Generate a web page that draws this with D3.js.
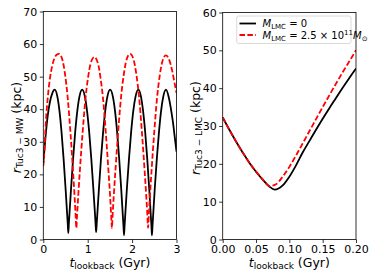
<!DOCTYPE html>
<html>
<head>
<meta charset="utf-8">
<script src="https://cdn.jsdelivr.net/npm/d3@7"></script>
<style>
  body { margin: 0; background: #fff; }
  text { font-family: "DejaVu Sans", sans-serif; fill: #000; }
</style>
</head>
<body>
<svg id="fig" width="374" height="280"></svg>
<script>
// left panel: distance to the MW (Gyr, kpc)
var mwTimeBlack = [0, 0.05, 0.1, 0.15, 0.2, 0.257,
  0.318, 0.364, 0.41, 0.456, 0.502, 0.532, 0.551, 0.563,
  0.575, 0.594, 0.625, 0.672, 0.719, 0.766, 0.813, 0.875,
  0.938, 0.985, 1.033, 1.08, 1.127, 1.159, 1.177, 1.19,
  1.203, 1.222, 1.253, 1.3, 1.348, 1.395, 1.442, 1.505,
  1.568, 1.615, 1.662, 1.708, 1.755, 1.786, 1.805, 1.818,
  1.831, 1.85, 1.882, 1.931, 1.979, 2.027, 2.076, 2.14,
  2.201, 2.247, 2.294, 2.34, 2.386, 2.416, 2.435, 2.447,
  2.46, 2.479, 2.51, 2.558, 2.606, 2.653, 2.701, 2.764,
  2.82, 2.87, 2.92, 2.96, 3.0];
var mwDistBlack = [23.5, 31.5, 38, 42.3, 44.8, 46,
  43.8, 39.5, 33.1, 25, 15.6, 8.9, 4.8, 2,
  4.8, 8.9, 15.6, 25, 33.1, 39.5, 43.8, 46,
  43.8, 39.5, 33.1, 25, 15.6, 8.9, 4.9, 2.3,
  4.9, 8.9, 15.6, 25, 33.1, 39.5, 43.8, 46,
  43.8, 39.5, 33.1, 25, 15.5, 8.5, 4.3, 1.3,
  4.3, 8.5, 15.5, 25, 33.1, 39.5, 43.8, 46,
  43.8, 39.5, 33.1, 25, 15.5, 8.5, 4.3, 1.3,
  4.3, 8.5, 15.5, 25, 33.1, 39.5, 43.8, 46,
  44, 40.5, 36, 31.5, 27];

var mwTimeRed = [0, 0.016, 0.06, 0.1, 0.15, 0.2, 0.25, 0.3, 0.354,
  0.432, 0.491, 0.549, 0.608, 0.666, 0.705, 0.728, 0.744,
  0.76, 0.785, 0.825, 0.886, 0.947, 1.008, 1.069, 1.15,
  1.229, 1.288, 1.348, 1.407, 1.466, 1.506, 1.529, 1.545,
  1.561, 1.586, 1.627, 1.689, 1.75, 1.812, 1.873, 1.955,
  2.036, 2.097, 2.158, 2.218, 2.279, 2.32, 2.344, 2.36,
  2.376, 2.4, 2.44, 2.5, 2.56, 2.62, 2.68, 2.76,
  2.84, 2.9, 2.95, 3.0];
var mwDistRed = [22.5, 25.3, 36.6, 43.5, 49.5, 53.3, 55.6, 56.7, 57,
  55.1, 50.6, 43.6, 33.5, 21.7, 13.1, 7.5, 3.5,
  7.4, 13, 21.4, 32.9, 42.9, 49.7, 54.2, 56,
  54.2, 49.7, 42.9, 32.9, 21.4, 13, 7.4, 3.5,
  7.5, 13.1, 21.7, 33.5, 43.6, 50.6, 55.1, 57,
  55.1, 50.6, 43.6, 33.5, 21.7, 13.1, 7.5, 3.6,
  7.5, 13, 21.5, 33.2, 43.2, 50.1, 54.6, 56.5,
  55, 52, 48.5, 45];

// right panel: distance to the LMC
var lmcTimeBlack = [0, 0.01, 0.02, 0.03, 0.04, 0.05, 0.06, 0.07, 0.078, 0.09,
  0.1, 0.11, 0.12, 0.13, 0.14, 0.15, 0.16, 0.17, 0.18, 0.19, 0.2];
var lmcDistBlack = [32.3, 29, 25.9, 23, 20.3, 17.9, 15.8, 14, 13.2, 14.3,
  16.6, 19.6, 23, 26, 29, 31.9, 34.7, 37.4, 40.1, 42.7, 45.2];
var lmcTimeRed = [0, 0.01, 0.02, 0.03, 0.04, 0.05, 0.06, 0.07, 0.08, 0.09,
  0.1, 0.11, 0.12, 0.13, 0.14, 0.15, 0.16, 0.17, 0.18, 0.19, 0.2];
var lmcDistRed = [32.3, 29, 25.9, 23, 20.3, 18, 15.9, 14.1, 14.6, 16.6,
  19.2, 22.2, 25.4, 28.6, 31.8, 35, 38.1, 41.2, 44.2, 47.1, 50];

var leftXTicks = [0, 1, 2, 3];
var leftYTicks = [0, 10, 20, 30, 40, 50, 60, 70];
var rightXTicks = [0, 0.05, 0.1, 0.15, 0.2];
var rightYTicks = [0, 10, 20, 30, 40, 50, 60];

var svg = d3.select('#fig');

function zip(ts, rs) {
  return ts.map(function (t, i) { return [t, rs[i]]; });
}

function drawPanel(opt) {
  var x = d3.scaleLinear().domain(opt.xDomain).range([opt.left, opt.right]);
  var y = d3.scaleLinear().domain(opt.yDomain).range([opt.bottom, opt.top]);
  var g = svg.append('g');

  g.append('clipPath').attr('id', opt.id)
    .append('rect')
    .attr('x', opt.left).attr('y', opt.top)
    .attr('width', opt.right - opt.left).attr('height', opt.bottom - opt.top);

  var line = d3.line()
    .x(function (d) { return x(d[0]); })
    .y(function (d) { return y(d[1]); })
    .curve(d3.curveMonotoneX);

  g.append('path')
    .attr('d', line(opt.black))
    .attr('clip-path', 'url(#' + opt.id + ')')
    .attr('fill', 'none').attr('stroke', '#000').attr('stroke-width', 1.8);
  g.append('path')
    .attr('d', line(opt.red))
    .attr('clip-path', 'url(#' + opt.id + ')')
    .attr('fill', 'none').attr('stroke', '#ff0000').attr('stroke-width', 1.8)
    .attr('stroke-dasharray', '5.5,2.4');

  var xAxis = g.append('g')
    .attr('transform', 'translate(0,' + opt.bottom + ')')
    .call(d3.axisBottom(x).tickValues(opt.xTicks).tickFormat(opt.xFmt).tickSize(3.5).tickPadding(2.5));
  var yAxis = g.append('g')
    .attr('transform', 'translate(' + opt.left + ',0)')
    .call(d3.axisLeft(y).tickValues(opt.yTicks).tickFormat(d3.format('d')).tickSize(3.5).tickPadding(2.5));
  [xAxis, yAxis].forEach(function (a) {
    a.select('.domain').remove();
    a.selectAll('text').attr('font-size', 11).attr('font-family', 'DejaVu Sans').attr('fill', '#000');
    a.selectAll('line').attr('stroke', '#000').attr('stroke-width', 0.8);
  });

  g.append('rect')
    .attr('x', opt.left).attr('y', opt.top)
    .attr('width', opt.right - opt.left).attr('height', opt.bottom - opt.top)
    .attr('fill', 'none').attr('stroke', '#000').attr('stroke-width', 0.8);

  // x label: t_lookback (Gyr)
  var xl = g.append('text')
    .attr('x', (opt.left + opt.right) / 2).attr('y', 266.5)
    .attr('text-anchor', 'middle').attr('font-size', 12.5);
  xl.append('tspan').attr('font-style', 'italic').text('t');
  xl.append('tspan').attr('font-size', 9).attr('dy', 2.5).text('lookback');
  xl.append('tspan').attr('dy', -2.5).text(' (Gyr)');

  // y label: r_Tuc3-XX (kpc)
  var yl = g.append('text')
    .attr('transform', 'translate(' + opt.yLabelX + ',' + ((opt.top + opt.bottom) / 2 + 2) + ') rotate(-90)')
    .attr('text-anchor', 'middle').attr('font-size', 12.5);
  yl.append('tspan').attr('font-style', 'italic').text('r');
  yl.append('tspan').attr('font-size', 9).attr('dy', 2).text(opt.sub);
  yl.append('tspan').attr('dy', -2).text(' (kpc)');

  return g;
}

drawPanel({
  id: 'clipL', left: 43.3, right: 176.5, top: 11.5, bottom: 239.5,
  xDomain: [0, 3], yDomain: [0, 70],
  xTicks: leftXTicks, yTicks: leftYTicks, xFmt: d3.format('d'),
  black: zip(mwTimeBlack, mwDistBlack), red: zip(mwTimeRed, mwDistRed),
  yLabelX: 20.5, sub: 'Tuc3 \u2212 MW'
});

var right = drawPanel({
  id: 'clipR', left: 222.7, right: 356, top: 12.5, bottom: 239.5,
  xDomain: [0, 0.2], yDomain: [0, 60],
  xTicks: rightXTicks, yTicks: rightYTicks, xFmt: d3.format('.2f'),
  black: zip(lmcTimeBlack, lmcDistBlack), red: zip(lmcTimeRed, lmcDistRed),
  yLabelX: 200, sub: 'Tuc3 \u2212 LMC'
});

// legend
var leg = right.append('g');
leg.append('rect')
  .attr('x', 236.7).attr('y', 16).attr('width', 114.3).attr('height', 27.5)
  .attr('rx', 2).attr('fill', '#fff').attr('fill-opacity', 0.8)
  .attr('stroke', '#d0d0d0').attr('stroke-width', 0.8);
leg.append('line').attr('x1', 239.5).attr('x2', 256).attr('y1', 23.5).attr('y2', 23.5)
  .attr('stroke', '#000').attr('stroke-width', 1.8);
leg.append('line').attr('x1', 239.5).attr('x2', 256).attr('y1', 35).attr('y2', 35)
  .attr('stroke', '#ff0000').attr('stroke-width', 1.8).attr('stroke-dasharray', '5.5,2.4');

var t1 = leg.append('text').attr('x', 262.5).attr('y', 27).attr('font-size', 10);
t1.append('tspan').attr('font-style', 'italic').text('M');
t1.append('tspan').attr('font-size', 7).attr('dy', 2).text('LMC');
t1.append('tspan').attr('dy', -2).text(' = 0');

var t2 = leg.append('text').attr('x', 262.5).attr('y', 38.5).attr('font-size', 10);
t2.append('tspan').attr('font-style', 'italic').text('M');
t2.append('tspan').attr('font-size', 7).attr('dy', 2).text('LMC');
t2.append('tspan').attr('dy', -2).text(' = 2.5 \u00d7 10');
t2.append('tspan').attr('font-size', 7).attr('dy', -4).text('11');
t2.append('tspan').attr('font-style', 'italic').attr('dy', 4).text('M');
t2.append('tspan').attr('font-size', 7).attr('dy', 2).text('\u2299');
</script>
</body>
</html>
